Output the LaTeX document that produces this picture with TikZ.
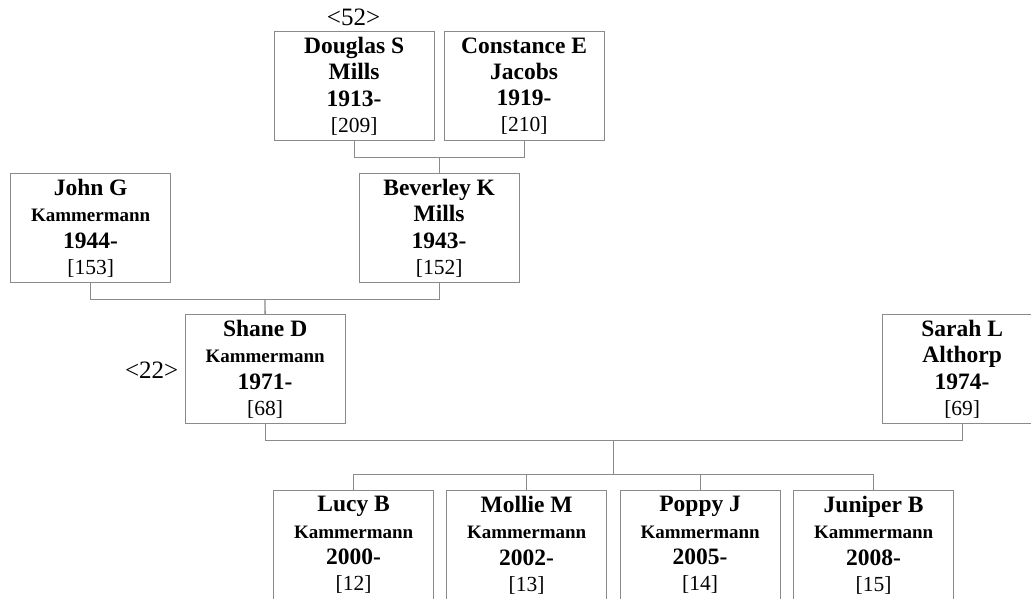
\documentclass[tikz,border=0pt]{standalone}
\usepackage{fontspec}
\setmainfont{Liberation Serif}
\usetikzlibrary{calc}
\definecolor{linegray}{HTML}{8A8A8A}
\tikzset{
  person/.style={draw=linegray, line width=1.3pt, rectangle, inner sep=0pt,
    minimum width=160pt, minimum height=109pt, anchor=north west, align=center,
    font=\bfseries\fontsize{23.5}{26.3}\selectfont},
  conn/.style={draw=linegray, line width=1.3pt},
  tag/.style={font=\fontsize{25}{28}\selectfont, inner sep=0pt}
}
\newcommand{\surn}[1]{{\fontsize{19}{26.3}\selectfont #1}}
\newcommand{\idn}[1]{{\mdseries\fontsize{21.5}{26.3}\selectfont [#1]}}
\begin{document}
\begin{tikzpicture}[x=1pt,y=-1pt]
\useasboundingbox (0,0) rectangle (1031,599);
% generation 1
\node[person] (douglas) at (273.5,31) {Douglas S\\Mills\\1913-\\\idn{209}};
\node[person] (constance) at (443.5,31) {Constance E\\Jacobs\\1919-\\\idn{210}};
\node[tag, anchor=base] (t52) at (353.5,26) {<52>};
% generation 2
\node[person] (john) at (10,173) {John G\\\surn{Kammermann}\\1944-\\\idn{153}};
\node[person] (beverley) at (358.5,173) {Beverley K\\Mills\\1943-\\\idn{152}};
% generation 3
\node[person] (shane) at (184.5,314) {Shane D\\\surn{Kammermann}\\1971-\\\idn{68}};
\node[person] (sarah) at (881.5,314) {Sarah L\\Althorp\\1974-\\\idn{69}};
\node[tag, anchor=base east] (t22) at (178.5,378.5) {<22>};
% generation 4
\node[person] (lucy) at (273,490) {Lucy B\\\surn{Kammermann}\\2000-\\\idn{12}};
\node[person] (mollie) at (446,490) {Mollie M\\\surn{Kammermann}\\2002-\\\idn{13}};
\node[person] (poppy) at (619.5,490) {Poppy J\\\surn{Kammermann}\\2005-\\\idn{14}};
\node[person] (juniper) at (793,490) {Juniper B\\\surn{Kammermann}\\2008-\\\idn{15}};
% junctions
\coordinate (j1) at ($(douglas.south)!0.5!(constance.south) + (0,16.5)$);
\coordinate (j2) at ($(john.south)!0.5!(beverley.south) + (0,16)$);
\coordinate (j3) at ($(shane.south)!0.5!(sarah.south) + (0,16)$);
\coordinate (j4) at ($(j3) + (0,34)$);
% connectors
\draw[conn] (douglas.south) |- (j1) -| (constance.south);
\draw[conn] (j1) -- (beverley.north);
\draw[conn] (john.south) |- (j2) -| (beverley.south);
\draw[conn] (j2) -- (shane.north);
\draw[conn] (shane.south) |- (j3) -| (sarah.south);
\draw[conn] (j3) -- (j4);
\draw[conn] (lucy.north) |- (j4) -| (juniper.north);
\draw[conn] (mollie.north) -- (mollie.north |- j4);
\draw[conn] (poppy.north) -- (poppy.north |- j4);
\end{tikzpicture}
\end{document}
